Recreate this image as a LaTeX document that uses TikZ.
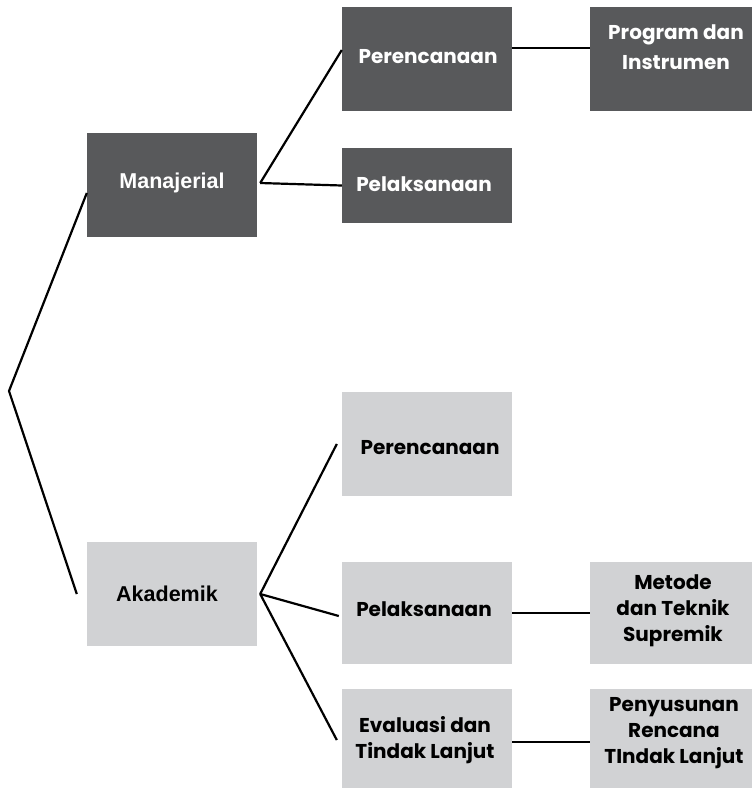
\documentclass[tikz,border=0pt]{standalone}
\usepackage{fontspec}
\setmainfont{Poppins}
\newfontfamily\arialf{Liberation Sans}
\usetikzlibrary{calc}
\definecolor{darkbox}{HTML}{58595B}
\definecolor{lightbox}{HTML}{D1D2D4}
\begin{document}
\begin{tikzpicture}[x=1pt,y=-1pt,
  box/.style={rectangle,inner sep=0pt,minimum width=170pt,minimum height=104pt},
  dbox/.style={box,fill=darkbox},
  lbox/.style={box,fill=lightbox},
  dtxt/.style={text=white,font=\fontsize{20}{26}\selectfont\bfseries,align=center,inner sep=0pt},
  ltxt/.style={text=black,font=\fontsize{20}{26}\selectfont\bfseries,align=center,inner sep=0pt},
  atxt/.style={font=\fontsize{21.5}{26}\selectfont\arialf\bfseries},
  conn/.style={line width=2.2pt,black}]
\path[use as bounding box,fill=white] (0,0) rectangle (752,788);
% boxes
\node[dbox] (man) at (172,185) {};
\node[dbox] (per1) at (427,59) {};
\node[dbox,minimum height=75pt] (pel1) at (427,185.5) {};
\node[dbox,minimum width=162pt] (prog) at (671,59) {};
\node[lbox] (ak) at (172,594) {};
\node[lbox] (per2) at (427,444) {};
\node[lbox,minimum height=102pt] (pel2) at (427,613) {};
\node[lbox,minimum height=99pt] (eva) at (427,738.5) {};
\node[lbox,minimum width=162pt,minimum height=102pt] (met) at (671,613) {};
\node[lbox,minimum width=162pt,minimum height=99pt] (pen) at (671,738.5) {};
% texts
\node[dtxt,atxt] (tman) at (172,183) {Manajerial};
\node[dtxt] (tper1) at (428,57) {Perencanaan};
\node[dtxt] (tpel1) at (424,184) {Pelaksanaan};
\node[dtxt,font=\fontsize{20}{30}\selectfont\bfseries] (tprog) at (676,47) {Program dan\\Instrumen};
\node[ltxt,atxt] (tak) at (167,594) {Akademik};
\node[ltxt] (tper2) at (430,448) {Perencanaan};
\node[ltxt] (tpel2) at (424,609) {Pelaksanaan};
\node[ltxt] (teva) at (425,740) {Evaluasi dan\\Tindak Lanjut};
\node[ltxt] (tmet) at (673,611) {Metode\\dan Teknik\\Supremik};
\node[ltxt] (tpen) at (674,733) {Penyusunan\\Rencana\\TIndak Lanjut};
% connector points
\coordinate (vtx) at (9,391);
\coordinate (manL) at ([yshift=-8pt]man.west);
\coordinate (akL) at ([xshift=-10pt]ak.west);
\coordinate (manR) at ([xshift=3pt,yshift=2pt]man.east);
\coordinate (akR) at ([xshift=3pt]ak.east);
% connectors
\draw[conn,line join=miter] (manL) -- (vtx) -- (akL);
\draw[conn] (manR) -- ([yshift=9pt]per1.west);
\draw[conn] (manR) -- (pel1.west);
\draw[conn] ([yshift=11pt]per1.east) -- ([yshift=11pt]prog.west);
\draw[conn] (akR) -- ([xshift=-5pt]per2.west);
\draw[conn] (akR) -- ([xshift=-3pt,yshift=-3pt]pel2.west);
\draw[conn] (akR) -- ([xshift=-5pt,yshift=-1.5pt]eva.west);
\draw[conn] (pel2.east) -- (met.west);
\draw[conn] ([yshift=-3.5pt]eva.east) -- ([yshift=-3.5pt]pen.west);
\end{tikzpicture}
\end{document}
